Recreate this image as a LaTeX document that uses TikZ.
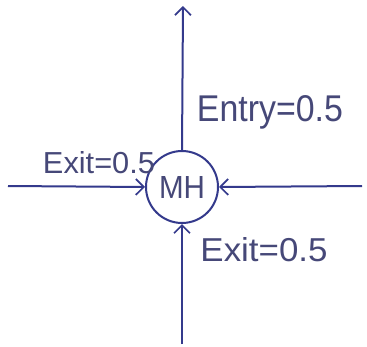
\documentclass[tikz,border=0pt]{standalone}
\usepackage{fontspec}
\setmainfont{Liberation Sans}
\usetikzlibrary{arrows.meta}
\definecolor{ink}{RGB}{52,58,140}
\definecolor{txtink}{RGB}{70,72,120}
\begin{document}
\begin{tikzpicture}[x=1pt,y=-1pt,
  ink line/.style={draw=ink,line width=2pt},
  tip/.style={-{Straight Barb[length=8pt,width=16pt,line width=1.7pt]}},
  lbl/.style={text=txtink,inner sep=0pt}]
\useasboundingbox[fill=white] (0,0) rectangle (367,346);
\node[circle,draw=ink,line width=2pt,minimum size=72pt,inner sep=0pt,
  text=txtink] (mh) at (182,187) {\resizebox{46pt}{22pt}{MH}};
\coordinate (top) at (183,6);
\coordinate (left) at (8,186);
\coordinate (right) at (362,186);
\coordinate (bottom) at (182,344);
\draw[ink line,tip] (mh.north) -- (top);
\draw[ink line,tip] (left) -- (mh.west);
\draw[ink line,tip] (right) -- (mh.east);
\draw[ink line,tip] (bottom) -- (mh.south);
\node[lbl] (entry) at (270,112) {\resizebox{146pt}{26pt}{Entry=0.5}};
\node[lbl] (exitl) at (99,163) {\resizebox{112pt}{22pt}{Exit=0.5}};
\node[lbl] (exitb) at (264,250) {\resizebox{127pt}{24pt}{Exit=0.5}};
\end{tikzpicture}
\end{document}
